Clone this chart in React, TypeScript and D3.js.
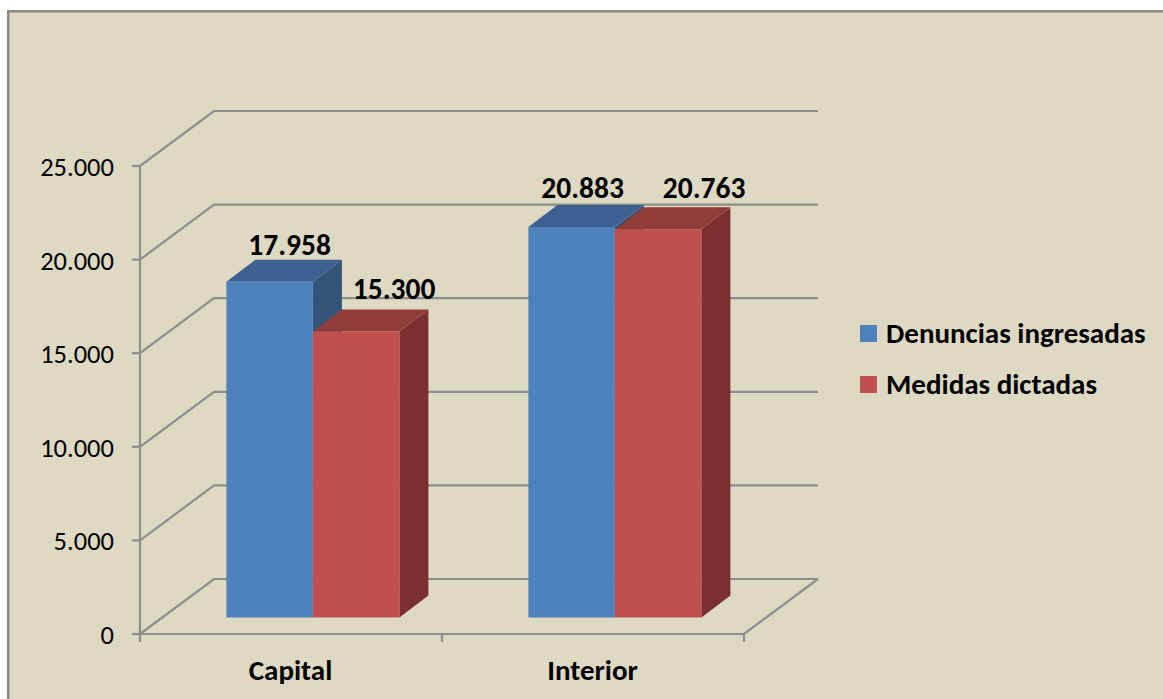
import React from "react";
import * as d3 from "d3";

const categories = ["Capital", "Interior"];
const seriesNames = ["Denuncias ingresadas", "Medidas dictadas"];
const denuncias = [17958, 20883];
const medidas = [15300, 20763];
const yTicks = [0, 5000, 10000, 15000, 20000, 25000];
const tickLabels = ["0", "5.000", "10.000", "15.000", "20.000", "25.000"];
const barLabels = [["17.958", "20.883"], ["15.300", "20.763"]];
// hand-placed data-label nudges relative to each bar's front face (series, category)
const labelDx = [[20, 11], [38, 46]];
const labelDy = [[-26.5, -29], [-32.5, -31]];

const FRONT = ["#4F81BD", "#C0504D"];
const TOP = ["#3C6190", "#903D3A"];
const SIDE = ["#335378", "#7A302F"];
const GRID = "#8E8E8C";
const FONT = "Carlito, Calibri, Lato, 'Open Sans', sans-serif";

const W = 1163, H = 699;
const x0 = 140, x1 = 744, y0 = 634, y1 = 166;
const wallDx = 74, wallDy = -55;
const depthDx = 29, depthDy = -22;
const baseDy = -16.5;

const y = d3.scaleLinear().domain([0, 25000]).range([y0, y1]);
const xBand = d3.scaleBand<string>().domain(categories).range([x0, x1]);
const xBar = d3.scaleBand<string>().domain(["0", "1"]).paddingInner(0);

const poly = (pts: [number, number][]) => d3.line()(pts) + "Z";

export default function App() {
  const series = [denuncias, medidas];
  const line = d3.line();
  return (
    <svg width={W} height={H} viewBox={`0 0 ${W} ${H}`}
      style={{ position: "absolute", left: 0, top: 0, display: "block" }}>
      <rect x={8.2} y={11.3} width={1180} height={720} fill="#DDD9C3" stroke="#868686" strokeWidth={2.4} />
      {yTicks.map((t, i) => (
        <g key={t}>
          <path fill="none" stroke={GRID} strokeWidth={2.2}
            d={line([[x0, y(t)], [x0 + wallDx, y(t) + wallDy], [x1 + wallDx, y(t) + wallDy]]) as string} />
          <path stroke={GRID} strokeWidth={2.2} d={line([[x0 - 8, y(t)], [x0, y(t)]]) as string} />
          <text x={x0 - 26} y={y(t) + 10} textAnchor="end" fontFamily={FONT} fontSize={26.5} fill="#000">{tickLabels[i]}</text>
        </g>
      ))}
      <path stroke={GRID} strokeWidth={2.2} d={line([[x0, y1], [x0, y0 + 8]]) as string} />
      <path stroke={GRID} strokeWidth={2.2} fill="none"
        d={line([[x0, y0], [x1, y0], [x1 + wallDx, y0 + wallDy]]) as string} />
      {[x0, xBand("Interior") as number, x1].map((t) => (
        <path key={t} stroke={GRID} strokeWidth={2.2} d={line([[t, y0], [t, y0 + 8]]) as string} />
      ))}
      {categories.map((c, ci) => {
        const bx = xBand(c) as number;
        const sc = xBar.copy().range([bx + 86.4, bx + 259.4]);
        return (
          <g key={c}>
            {series.map((s, si) => {
              const l = sc(String(si)) as number;
              const r = l + sc.bandwidth();
              const base = y(0) + baseDy;
              const top = y(s[ci]) + baseDy + 0.4;
              return (
                <g key={si}>
                  <path fill={SIDE[si]} d={poly([[r, top], [r + depthDx, top + depthDy], [r + depthDx, base + depthDy], [r, base]])} />
                  <path fill={TOP[si]} d={poly([[l, top], [l + depthDx, top + depthDy], [r + depthDx, top + depthDy], [r, top]])} />
                  <rect x={l} y={top} width={r - l} height={base - top} fill={FRONT[si]} />
                </g>
              );
            })}
            {series.map((s, si) => {
              const l = sc(String(si)) as number;
              return (
                <text key={si} x={l + sc.bandwidth() / 2 + labelDx[si][ci]} y={y(s[ci]) + baseDy + labelDy[si][ci]} textAnchor="middle"
                  fontFamily={FONT} fontSize={29.5} fontWeight={700} fill="#000">{barLabels[si][ci]}</text>
              );
            })}
            <text x={bx + 150.5} y={680} textAnchor="middle" fontFamily={FONT} fontSize={29} fontWeight={700} fill="#000">{c}</text>
          </g>
        );
      })}
      {seriesNames.map((n, i) => (
        <g key={n}>
          <rect x={860} y={325 + i * 51} width={17} height={17} fill={FRONT[i]} />
          <text x={886} y={342.7 + i * 51} fontFamily={FONT} fontSize={29} fontWeight={700} fill="#000">{n}</text>
        </g>
      ))}
    </svg>
  );
}
